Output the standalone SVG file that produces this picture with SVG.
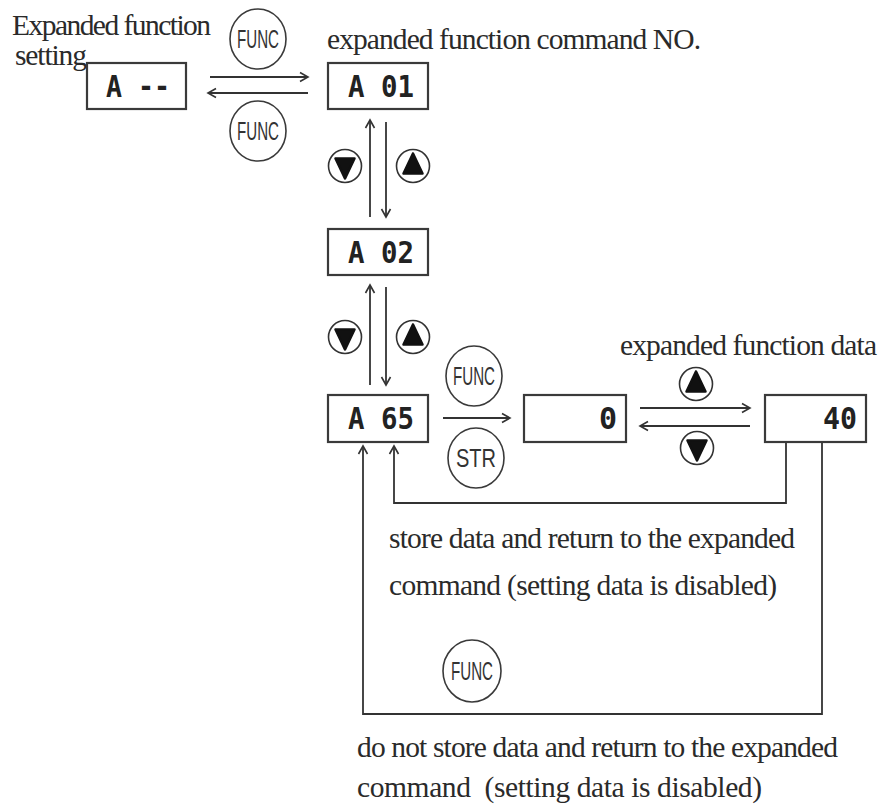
<svg xmlns="http://www.w3.org/2000/svg" width="885" height="812" viewBox="0 0 885 812">
<style>
.lbl{font-family:"Liberation Serif","Times New Roman",serif;font-size:29.5px;fill:#2a2a2a}
.disp{font-family:"DejaVu Sans Mono","Liberation Mono",monospace;font-weight:bold;font-size:30px;fill:#222}
.box{fill:#fff;stroke:#3a3a3a;stroke-width:2.2}
.key{fill:#fff;stroke:#3a3a3a;stroke-width:1.6}
.keyt{font-family:"Liberation Sans",Arial,sans-serif;font-size:25px;fill:#333;text-anchor:middle}
.btn{fill:#fff;stroke:#333;stroke-width:1.6}
.tri{fill:#111;stroke:#111;stroke-width:2.5;stroke-linejoin:round}
.con{fill:none;stroke:#333;stroke-width:1.8}
</style>
<defs>
<marker id="ah" markerUnits="userSpaceOnUse" markerWidth="12" markerHeight="12" viewBox="0 0 12 12" refX="10" refY="6" orient="auto">
<path d="M2,1.5 L10,6 L2,10.5" fill="none" stroke="#333" stroke-width="1.6"/>
</marker>
<g id="up-btn"><circle class="btn" cx="0" cy="0" r="16.5"/><path class="tri" d="M0,-12.5 L-9.5,7.5 L9.5,7.5 Z"/></g>
<g id="down-btn"><circle class="btn" cx="0" cy="0" r="16.5"/><path class="tri" d="M0,12.5 L-9.5,-7.5 L9.5,-7.5 Z"/></g>
</defs>

<g id="labels">
<text class="lbl" x="12" y="35" textLength="199">Expanded function</text>
<text class="lbl" x="15" y="65" textLength="72">setting</text>
<text class="lbl" x="327" y="49" textLength="374">expanded function command NO.</text>
<text class="lbl" x="620" y="355" textLength="257">expanded function data</text>
<text class="lbl" x="389" y="548" textLength="406">store data and return to the expanded</text>
<text class="lbl" x="389" y="595" textLength="388">command (setting data is disabled)</text>
<text class="lbl" x="357" y="757" textLength="481">do not store data and return to the expanded</text>
<text class="lbl" x="357" y="797" xml:space="preserve" textLength="405">command  (setting data is disabled)</text>
</g>

<g id="connectors">
<line class="con" x1="210" y1="77" x2="308" y2="77" marker-end="url(#ah)"/>
<line class="con" x1="308" y1="93" x2="208" y2="93" marker-end="url(#ah)"/>
<line class="con" x1="370" y1="217" x2="370" y2="120" marker-end="url(#ah)"/>
<line class="con" x1="386" y1="122" x2="386" y2="217" marker-end="url(#ah)"/>
<line class="con" x1="370" y1="385" x2="370" y2="285" marker-end="url(#ah)"/>
<line class="con" x1="386" y1="287" x2="386" y2="385" marker-end="url(#ah)"/>
<line class="con" x1="443" y1="418" x2="510" y2="418" marker-end="url(#ah)"/>
<line class="con" x1="640" y1="408" x2="750" y2="408" marker-end="url(#ah)"/>
<line class="con" x1="750" y1="426" x2="640" y2="426" marker-end="url(#ah)"/>
<path class="con" d="M786,442 V503 H394 V446" marker-end="url(#ah)"/>
<path class="con" d="M822,442 V714 H363 V446" marker-end="url(#ah)"/>
</g>

<g id="node-a-dash"><rect class="box" x="87" y="63" width="99" height="46"/><text class="disp" x="106" y="97" textLength="64" lengthAdjust="spacingAndGlyphs">A --</text></g>
<g id="node-a01"><rect class="box" x="328" y="63" width="100" height="46"/><text class="disp" x="348" y="97" textLength="66" lengthAdjust="spacingAndGlyphs">A 01</text></g>
<g id="node-a02"><rect class="box" x="328" y="229" width="100" height="46"/><text class="disp" x="348" y="263" textLength="66" lengthAdjust="spacingAndGlyphs">A 02</text></g>
<g id="node-a65"><rect class="box" x="328" y="395" width="100" height="47"/><text class="disp" x="348" y="429" textLength="66" lengthAdjust="spacingAndGlyphs">A 65</text></g>
<g id="node-data0"><rect class="box" x="524" y="395" width="102" height="47"/><text class="disp" x="617" y="429" text-anchor="end">0</text></g>
<g id="node-data40"><rect class="box" x="765" y="395" width="101" height="47"/><text class="disp" x="857" y="429" text-anchor="end" textLength="34" lengthAdjust="spacingAndGlyphs">40</text></g>

<g id="key-func-1"><ellipse class="key" cx="258" cy="39" rx="28" ry="30"/><text class="keyt" x="258" y="48" textLength="42" lengthAdjust="spacingAndGlyphs">FUNC</text></g>
<g id="key-func-2"><ellipse class="key" cx="258" cy="131" rx="28" ry="30"/><text class="keyt" x="258" y="140" textLength="42" lengthAdjust="spacingAndGlyphs">FUNC</text></g>
<g id="key-func-3"><ellipse class="key" cx="474" cy="376" rx="28" ry="30"/><text class="keyt" x="474" y="385" textLength="42" lengthAdjust="spacingAndGlyphs">FUNC</text></g>
<g id="key-str"><ellipse class="key" cx="476" cy="458" rx="28" ry="30"/><text class="keyt" x="476" y="467" textLength="40" lengthAdjust="spacingAndGlyphs">STR</text></g>
<g id="key-func-4"><ellipse class="key" cx="472" cy="671" rx="29" ry="31"/><text class="keyt" x="472" y="680" textLength="42" lengthAdjust="spacingAndGlyphs">FUNC</text></g>

<g id="btn-down-1"><use href="#down-btn" x="345" y="166"/></g>
<g id="btn-up-1"><use href="#up-btn" x="413" y="166"/></g>
<g id="btn-down-2"><use href="#down-btn" x="345" y="337"/></g>
<g id="btn-up-2"><use href="#up-btn" x="413" y="337"/></g>
<g id="btn-up-3"><use href="#up-btn" x="696" y="384"/></g>
<g id="btn-down-3"><use href="#down-btn" x="697" y="448"/></g>
</svg>
